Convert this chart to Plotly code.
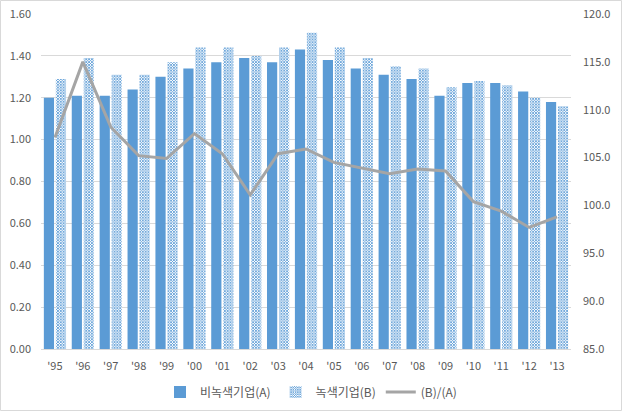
import plotly.graph_objects as go

years = ["'95", "'96", "'97", "'98", "'99", "'00", "'01", "'02", "'03", "'04",
         "'05", "'06", "'07", "'08", "'09", "'10", "'11", "'12", "'13"]
non_green_A = [1.20, 1.21, 1.21, 1.24, 1.30, 1.34, 1.37, 1.39, 1.37, 1.43,
               1.38, 1.34, 1.31, 1.29, 1.21, 1.27, 1.27, 1.23, 1.18]
green_B = [1.29, 1.39, 1.31, 1.31, 1.37, 1.44, 1.44, 1.40, 1.44, 1.51,
           1.44, 1.39, 1.35, 1.34, 1.25, 1.28, 1.26, 1.20, 1.16]
ratio_BA = [107.1, 115.0, 108.2, 105.2, 104.9, 107.5, 105.4, 101.1, 105.4, 105.9,
            104.5, 103.9, 103.3, 103.8, 103.6, 100.4, 99.4, 97.7, 98.8]
left_ticks = [0.0, 0.2, 0.4, 0.6, 0.8, 1.0, 1.2, 1.4, 1.6]
right_ticks = [85, 90, 95, 100, 105, 110, 115, 120]

BLUE = "#5B9BD5"
GRAY = "#A5A5A5"
TXT = "#595959"
FONT = "Noto Sans CJK KR, Malgun Gothic, sans-serif"

W, H = 622, 411
L, R, T, B = 41, 51, 14, 62

fig = go.Figure()
fig.add_trace(go.Bar(x=years, y=non_green_A, name="비녹색기업(A)",
                     marker=dict(color=BLUE, line=dict(width=0))))
fig.add_trace(go.Bar(x=years, y=green_B, name="녹색기업(B)",
                     marker=dict(color="white", line=dict(width=0),
                                 pattern=dict(shape="x", fgcolor=BLUE, bgcolor="white",
                                              size=2, solidity=0.65, fillmode="replace"))))
fig.add_trace(go.Scatter(x=years, y=ratio_BA, name="(B)/(A)", yaxis="y2",
                         mode="lines", line=dict(color=GRAY, width=3)))

pw = W - L - R
ph = H - T - B
fig.add_shape(type="rect", xref="paper", yref="paper",
              x0=(-L + 0.5) / pw, x1=1 + (R - 0.5) / pw,
              y0=(-B + 0.5) / ph, y1=1 + (T - 0.5) / ph,
              line=dict(color="#D9D9D9", width=1), layer="below")

fig.update_layout(
    width=W, height=H,
    margin=dict(l=L, r=R, t=T, b=B, autoexpand=False),
    paper_bgcolor="white", plot_bgcolor="white",
    barmode="group", bargap=0.14, bargroupgap=0.15,
    font=dict(family=FONT, size=11, color=TXT),
    showlegend=True,
    legend=dict(orientation="h", xref="container", yref="container",
                x=0.5, xanchor="center", y=0.046, yanchor="middle",
                font=dict(size=12, color=TXT), itemwidth=30,
                traceorder="normal"),
    xaxis=dict(showgrid=False, showline=True, linecolor="#D9D9D9", linewidth=1,
               ticks="", ticklabelstandoff=7, tickfont=dict(size=11, color=TXT)),
    yaxis=dict(range=[0, 1.6], tickvals=left_ticks, tickformat=".2f",
               showgrid=True, gridcolor="#D9D9D9", gridwidth=1, zeroline=False,
               showline=False, ticks="", ticklabelstandoff=9,
               tickfont=dict(size=11, color=TXT)),
    yaxis2=dict(range=[85, 120], tickvals=right_ticks, tickformat=".1f",
                overlaying="y", side="right", showgrid=False, zeroline=False,
                showline=False, ticks="", ticklabelstandoff=11,
                tickfont=dict(size=11, color=TXT)),
)

fig.write_html("out.html")
